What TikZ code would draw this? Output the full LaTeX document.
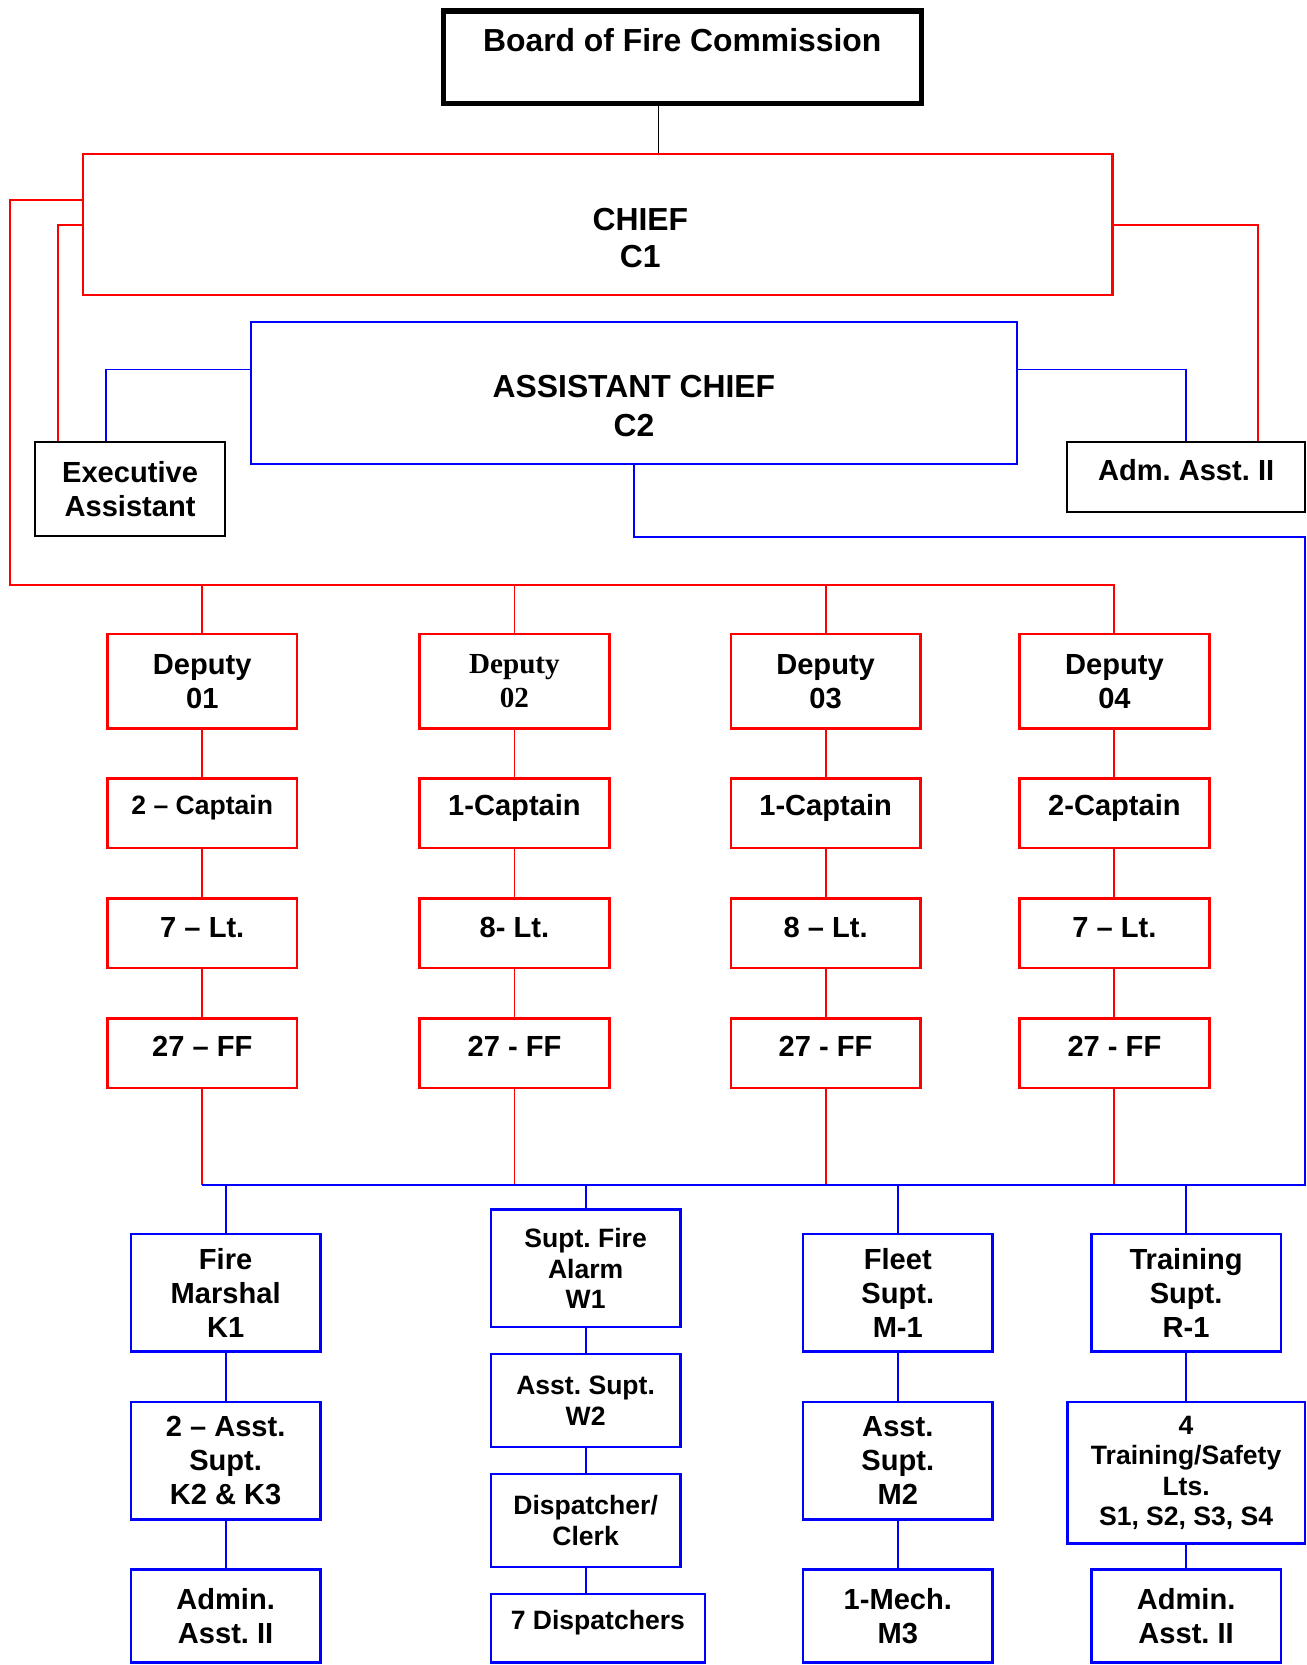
\documentclass[tikz,border=0pt]{standalone}
\usepackage{fontspec}
\setmainfont{Liberation Sans}
\newfontfamily\timesbf{Liberation Serif}
\frenchspacing

\newcommand\fsbig{\fontsize{15}{17.5}\selectfont\bfseries}
\newcommand\fsmid{\fontsize{15}{18}\selectfont\bfseries}
\newcommand\fsnorm{\fontsize{13.7}{16}\selectfont\bfseries}
\newcommand\fssmall{\fontsize{12.5}{14.4}\selectfont\bfseries}
\newcommand\fsserif{\fontsize{13.7}{16}\selectfont\timesbf\bfseries}

\begin{document}
\begin{tikzpicture}[x=0.5pt, y=-0.5pt, every node/.style={inner sep=0pt, align=center, font=\fsnorm},
  redbox/.style={draw=red, line width=1.2pt, minimum width=89.3pt, minimum height=32.8pt},
  bluebox/.style={draw=blue, line width=1.2pt, minimum width=89.3pt, minimum height=43.8pt},
  blackbox/.style={draw=black, line width=1pt},
  redline/.style={draw=red, line width=0.9pt},
  blueline/.style={draw=blue, line width=0.9pt},
  lift/.style={text height=10pt, text depth=#1}]
\useasboundingbox (0,0) rectangle (1230,1568);

% top
\node[blackbox, line width=2.5pt, minimum width=225pt, minimum height=43.5pt, font=\fsbig, text height=11pt, text depth=16.3pt] (board) at (642.5,54) {Board of Fire Commission};
\node[redbox, minimum width=484.8pt, minimum height=66.3pt, font=\fsbig, text height=40.2pt, text depth=0pt] (chief) at (563,211.5) {\hspace*{40pt}CHIEF\\\hspace*{40pt}C1};
\node[bluebox, minimum width=360.8pt, minimum height=66.8pt, font=\fsmid, text height=40.7pt, text depth=0pt] (ac) at (597,370) {ASSISTANT CHIEF\\C2};
\node[blackbox, minimum width=89.5pt, minimum height=44.5pt] (exec) at (122.5,460.5) {Executive\\Assistant};
\node[blackbox, minimum width=112pt, minimum height=33pt, lift=6.2pt] (adm) at (1117,449) {Adm. Asst. II};

% deputies
\node[redbox, minimum height=44.3pt] (dep1) at (190.5,641.5) {Deputy\\01};
\node[redbox, minimum height=44.3pt, font=\fsserif] (dep2) at (484.5,641.5) {Deputy\\02};
\node[redbox, minimum height=44.3pt] (dep3) at (777.5,641.5) {Deputy\\03};
\node[redbox, minimum height=44.3pt] (dep4) at (1049.5,641.5) {Deputy\\04};
\node[redbox, font=\fssmall, text height=9.5pt, text depth=8.5pt] (cap1) at (190.5,766) {2 -- Captain};
\node[redbox, lift=8.2pt] (cap2) at (484.5,766) {1-Captain};
\node[redbox, lift=8.2pt] (cap3) at (777.5,766) {1-Captain};
\node[redbox, lift=8.2pt] (cap4) at (1049.5,766) {2-Captain};
\node[redbox, lift=6.2pt] (lt1) at (190.5,879) {7 -- Lt.};
\node[redbox, lift=6.2pt] (lt2) at (484.5,879) {8- Lt.};
\node[redbox, lift=6.2pt] (lt3) at (777.5,879) {8 -- Lt.};
\node[redbox, lift=6.2pt] (lt4) at (1049.5,879) {7 -- Lt.};
\node[redbox, lift=7.2pt] (ff1) at (190.5,992) {27 -- FF};
\node[redbox, lift=7.2pt] (ff2) at (484.5,992) {27 - FF};
\node[redbox, lift=7.2pt] (ff3) at (777.5,992) {27 - FF};
\node[redbox, lift=7.2pt] (ff4) at (1049.5,992) {27 - FF};

% lower divisions
\node[bluebox, minimum height=55.3pt] (marshal) at (212.5,1217.5) {Fire\\Marshal\\K1};
\node[bluebox, minimum height=55.3pt] (kasst) at (212.5,1375.5) {2 -- Asst.\\Supt.\\K2 \& K3};
\node[bluebox] (kadmin) at (212.5,1522) {Admin.\\Asst. II};
\node[bluebox, minimum height=55.3pt, font=\fssmall] (alarm) at (551.5,1194.5) {Supt. Fire\\Alarm\\W1};
\node[bluebox, font=\fssmall] (walarm) at (551.5,1319) {Asst. Supt.\\W2};
\node[bluebox, font=\fssmall] (clerk) at (551.5,1432) {Dispatcher/\\Clerk};
\node[bluebox, minimum width=100.8pt, minimum height=32.3pt, font=\fssmall, text height=9.5pt, text depth=8.5pt] (disp) at (563,1533.5) {7 Dispatchers};
\node[bluebox, minimum height=55.3pt] (fleet) at (845.5,1217.5) {Fleet\\Supt.\\M-1};
\node[bluebox, minimum height=55.3pt] (masst) at (845.5,1375.5) {Asst.\\Supt.\\M2};
\node[bluebox] (mech) at (845.5,1522) {1-Mech.\\M3};
\node[bluebox, minimum height=55.3pt] (train) at (1117,1217.5) {Training\\Supt.\\R-1};
\node[bluebox, minimum width=111.8pt, minimum height=66.8pt, font=\fssmall] (lts) at (1117,1387) {4\\Training/Safety\\Lts.\\S1, S2, S3, S4};
\node[bluebox] (radmin) at (1117,1522) {Admin.\\Asst. II};

\coordinate (rbus) at (9,551);
\coordinate (bturn) at (1229,506);
\coordinate (bbus) at (1229,1116);

% chief lines
\draw[line width=0.6pt] ([xshift=-11.25pt]board.south) -- ([xshift=-11.25pt]board.south |- chief.north);
\draw[redline] ([yshift=11.75pt]chief.west) -| (rbus) -| (dep4.north);
\draw[redline] (dep1.north) -- (dep1.north |- rbus);
\draw[redline] (dep2.north) -- (dep2.north |- rbus);
\draw[redline] (dep3.north) -- (dep3.north |- rbus);
\draw[redline] (chief.west) -| ([xshift=-33.75pt]exec.north);
\draw[redline] (chief.east) -| ([xshift=34pt]adm.north);
\draw[redline] (dep1) -- (cap1) -- (lt1) -- (ff1);
\draw[redline] (dep2) -- (cap2) -- (lt2) -- (ff2);
\draw[redline] (dep3) -- (cap3) -- (lt3) -- (ff3);
\draw[redline] (dep4) -- (cap4) -- (lt4) -- (ff4);
\draw[redline] (ff1.south) -- (ff1.south |- bbus);
\draw[redline] (ff2.south) -- (ff2.south |- bbus);
\draw[redline] (ff3.south) -- (ff3.south |- bbus);
\draw[redline] (ff4.south) -- (ff4.south |- bbus);

% assistant chief lines
\draw[blueline] ([yshift=11pt]ac.west) -| ([xshift=-11.25pt]exec.north);
\draw[blueline] ([yshift=11pt]ac.east) -| (adm.north);
\draw[blueline] (ac.south) |- (bturn) -- (bbus) -- (ff1.south |- bbus);
\draw[blueline] (marshal.north |- bbus) -- (marshal.north);
\draw[blueline] (alarm.north |- bbus) -- (alarm.north);
\draw[blueline] (fleet.north |- bbus) -- (fleet.north);
\draw[blueline] (train.north |- bbus) -- (train.north);
\draw[blueline] (marshal) -- (kasst) -- (kadmin);
\draw[blueline] (alarm) -- (walarm) -- (clerk);
\draw[blueline] (clerk.south) -- (clerk.south |- disp.north);
\draw[blueline] (fleet) -- (masst) -- (mech);
\draw[blueline] (train) -- (lts) -- (radmin);
\end{tikzpicture}
\end{document}
